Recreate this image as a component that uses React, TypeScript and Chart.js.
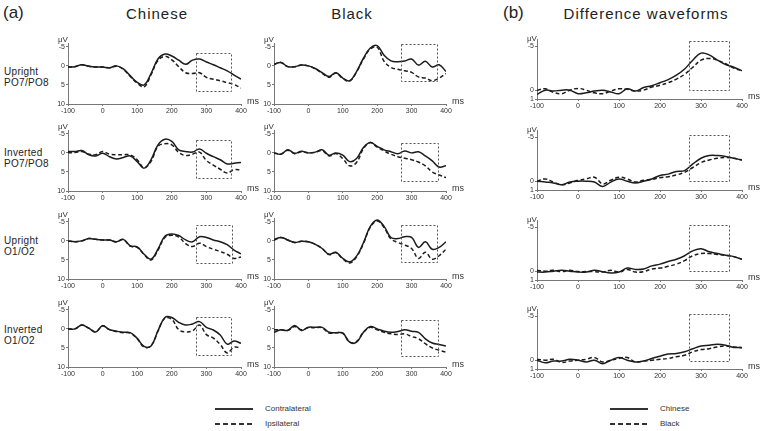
import React, { useEffect, useRef } from "react";
import { Chart, registerables } from "chart.js";

Chart.register(...registerables);

// ---------- data ----------
const times = [-100, -80, -60, -40, -20, 0, 20, 40, 60, 80, 100, 120, 140, 160, 180, 200, 220, 240, 260, 280, 300, 320, 340, 360, 380, 400];
const xTicks = [-100, 0, 100, 200, 300, 400];
const leftYTicks = [-5, 0, 5, 10];
const rightYTicks = [-5, 0, 1];

// Chinese, Upright PO7/PO8
const chUpPO_contra = [0.3, 0.2, -0.3, 0.1, 0.3, 0.3, 0.5, 0.0, 0.8, 2.6, 4.3, 5.0, 2.0, -1.8, -3.1, -2.6, -1.5, -0.4, -1.5, -1.8, -1.0, -0.3, 0.5, 1.3, 2.4, 3.5];
const chUpPO_ipsi = [0.3, 0.2, -0.3, 0.1, 0.3, 0.3, 0.5, 0.1, 0.9, 2.8, 4.5, 5.5, 2.3, -1.4, -2.5, -1.6, 0.2, 1.8, 2.0, 1.8, 3.0, 3.5, 3.9, 4.4, 4.9, 5.8];
// Black, Upright PO7/PO8
const blUpPO_contra = [-0.4, -0.9, 0.2, 0.2, -0.2, 0, 0.7, 1.8, 2.8, 1.8, 3.2, 3.9, 1.5, -2.0, -4.7, -5.3, -2.8, -1.3, -1.1, -1.3, -1.8, -0.2, -1.2, 0.3, -0.3, 1.5];
const blUpPO_ipsi = [-0.4, -0.9, 0.2, 0.2, -0.2, 0, 0.8, 1.9, 3.0, 1.9, 3.3, 4.0, 1.6, -1.8, -4.4, -4.9, -1.2, 0.4, 0.9, 1.3, 1.7, 2.9, 3.2, 3.9, 3.2, 2.0];
// Difference, Upright PO7/PO8
const dfUpPO_chinese = [0.5, 0, 0.1, 0, 0, 0.4, 0.3, 0.1, 0, 0.2, 0.4, -0.15, 0.1, -0.3, -0.5, -0.85, -1.2, -1.7, -2.4, -3.4, -4.2, -4.0, -3.4, -2.9, -2.6, -2.2];
const dfUpPO_black = [0, -0.15, 0.25, 0.4, 0, -0.2, 0, 0.3, 0.4, 0.1, -0.15, -0.1, 0.1, 0, -0.35, -0.55, -0.85, -1.25, -1.8, -2.6, -3.4, -3.6, -3.4, -3.0, -2.5, -2.2];

// Chinese, Inverted PO7/PO8
const chInPO_contra = [-0.35, -0.35, -0.6, 0.5, 0.8, 0.1, 1.0, 1.6, 1.2, 0.8, 2.3, 4.0, 1.8, -2.1, -3.6, -3.0, -0.8, -0.35, -0.2, -1.0, 0.1, 1.0, 1.8, 2.9, 2.7, 2.5];
const chInPO_ipsi = [0, -0.1, -0.35, 0.35, 0.5, -0.35, 0.35, 0.5, 0.5, 0.5, 1.8, 3.9, 2.2, -1.7, -2.4, -2.1, -0.1, 0.7, 0.35, -0.2, 2.0, 3.2, 4.3, 5.3, 4.4, 4.5];
// Black, Inverted PO7/PO8
const blInPO_contra = [0, 0.35, -0.8, 0.1, -0.4, 0, -0.2, -0.8, 0.6, 0, 0.6, 2.3, 1.5, -1.4, -2.7, -1.7, -0.8, -0.3, 0.2, -0.5, 0, -0.3, 0.8, 2.1, 3.7, 3.4];
const blInPO_ipsi = [0, 0.3, -0.7, 0.2, -0.3, 0, -0.1, -0.6, 0.8, 0.2, 1.5, 3.4, 2.5, -1.1, -2.7, -1.5, -0.5, 0.35, 1.0, 1.4, 1.8, 2.4, 3.4, 5.0, 5.8, 6.5];
// Difference, Inverted PO7/PO8
const dfInPO_chinese = [0, 0.1, 0.2, 0.4, 0.1, 0, 0, 0.1, 0.6, 0.1, -0.25, 0, 0.2, 0, -0.25, -0.65, -0.8, -1.1, -1.2, -1.95, -2.6, -2.9, -2.9, -2.8, -2.6, -2.4];
const dfInPO_black = [0, -0.25, 0.1, 0.4, 0.2, -0.1, -0.25, -0.45, 0.3, -0.1, -0.45, -0.25, 0.1, -0.1, -0.2, -0.4, -0.5, -0.7, -1.0, -1.55, -2.1, -2.4, -2.6, -2.7, -2.6, -2.4];

// Chinese, Upright O1/O2
const chUpO_contra = [0, 0.2, 0, -0.6, -0.4, -0.25, -0.2, 0.25, -0.4, 1.3, 1.6, 3.5, 4.8, 2.2, -1.2, -1.8, -1.4, -0.25, 0.25, -1.1, -0.9, -0.25, 0.25, 1.0, 2.4, 3.4];
const chUpO_ipsi = [0, 0.2, 0, -0.6, -0.4, -0.25, -0.2, 0.3, -0.3, 1.4, 1.7, 3.6, 5.0, 2.4, -0.9, -1.5, -1.0, 0.7, 1.5, 0.6, 1.5, 2.2, 2.8, 3.5, 4.6, 4.2];
// Black, Upright O1/O2
const blUpO_contra = [-0.25, -0.9, -0.25, 0.4, 0.1, 0.25, 0.9, 2.0, 3.5, 3.0, 4.6, 5.5, 4.0, 0.5, -3.8, -5.5, -3.8, -0.9, -0.6, -1.1, -0.9, 1.7, 0.25, 2.2, 1.7, 0.25];
const blUpO_ipsi = [-0.25, -0.9, -0.25, 0.4, 0.1, 0.25, 0.9, 2.0, 3.6, 3.1, 4.7, 5.8, 4.2, 0.7, -3.6, -5.2, -3.5, -0.5, 0.4, 1.1, 2.0, 4.6, 3.0, 4.8, 3.9, 2.2];
// Difference, Upright O1/O2
const dfUpO_chinese = [0.1, 0.1, 0, -0.1, 0, 0.1, 0.1, -0.1, 0.05, 0.2, 0.1, -0.35, -0.2, -0.25, -0.6, -0.8, -1.1, -1.35, -1.75, -2.3, -2.55, -2.2, -2.0, -1.8, -1.65, -1.35];
const dfUpO_black = [-0.1, 0, -0.1, 0.05, -0.1, 0.05, 0.05, 0.05, 0.1, -0.1, 0.1, -0.2, 0.1, 0.05, -0.25, -0.35, -0.55, -0.8, -1.2, -1.75, -2.0, -2.0, -1.9, -1.8, -1.65, -1.35];

// Chinese, Inverted O1/O2
const chInO_contra = [0, 0, -1.0, -0.2, 0.8, -0.8, 0.2, 0.6, 0.9, 1.0, 2.5, 4.6, 4.5, 0.5, -3.0, -3.0, -1.7, -1.0, -1.3, -1.9, -0.4, 0.3, 1.6, 4.0, 3.2, 3.8];
const chInO_ipsi = [0, 0, -1.0, -0.2, 0.8, -0.8, 0.2, 0.7, 1.0, 1.1, 2.6, 4.8, 4.4, 0.6, -2.8, -2.5, 0.2, 0.8, 0.5, -1.0, 1.5, 2.4, 4.1, 6.3, 4.8, 5.0];
// Black, Inverted O1/O2
const blInO_contra = [0.9, 0.25, 0.4, -0.9, 0.4, -0.4, -0.4, -0.4, 0.9, 1.0, 1.1, 3.5, 3.5, 0.9, -0.6, 0, 0.6, 0.9, 0.7, 0.25, 0.6, 0.9, 2.6, 3.7, 4.1, 4.5];
const blInO_ipsi = [0.25, 0.25, 0.4, -0.6, 0.25, -0.3, -0.3, -0.3, 1.1, 1.0, 1.1, 3.5, 3.3, 0.9, -0.4, 0.25, 0.9, 1.3, 1.5, 1.3, 2.0, 2.6, 3.9, 5.0, 5.6, 6.1];
// Difference, Inverted O1/O2
const dfInO_chinese = [0, 0.3, 0.1, 0.1, -0.1, 0, 0.2, 0, 0.4, 0, -0.3, 0, 0.2, 0.1, -0.2, -0.45, -0.7, -0.75, -0.95, -1.3, -1.6, -1.7, -1.8, -1.7, -1.45, -1.45];
const dfInO_black = [-0.1, 0, -0.1, 0.25, 0.1, 0, -0.1, -0.3, 0.2, 0, -0.2, -0.3, 0.2, 0.1, 0, -0.1, -0.2, -0.4, -0.55, -0.95, -1.2, -1.3, -1.5, -1.6, -1.5, -1.4];

// analysis windows [t0, t1, v0, v1]
const winChUpPO = [270, 372, -3.4, 6.6];
const winBlUpPO = [270, 374, -5.7, 4.0];
const winDfUpPO = [271, 368, -5.6, 0];
const winChInPO = [270, 372, -3.4, 6.5];
const winBlInPO = [269, 376, -2.5, 7.4];
const winDfInPO = [271, 368, -5.2, 0];
const winChUpO = [270, 373, -4.1, 5.8];
const winBlUpO = [269, 374, -4.1, 5.5];
const winDfUpO = [271, 368, -5.25, 0];
const winChInO = [270, 372, -3.2, 6.8];
const winBlInO = [270, 376, -2.3, 7.2];
const winDfInO = [271, 368, -5.2, 0.1];

const TICK_FONT = "'Liberation Sans Narrow', 'Liberation Sans', Arial, sans-serif";
const TEXT_FONT = "'Liberation Sans', Arial, sans-serif";

const decorPlugin = {
  id: "decor",
  afterDatasetsDraw(chart: any, _args: any, opts: any) {
    const { ctx, chartArea } = chart;
    const x = chart.scales.x;
    const y = chart.scales.y;
    const [t0, t1, v0, v1] = opts.rect;
    ctx.save();
    ctx.setLineDash([2, 2]);
    ctx.strokeStyle = "#555";
    ctx.lineWidth = 1;
    const px0 = Math.round(x.getPixelForValue(t0)) + 0.5;
    const px1 = Math.round(x.getPixelForValue(t1)) + 0.5;
    const py0 = Math.round(y.getPixelForValue(v0)) + 0.5;
    const py1 = Math.round(y.getPixelForValue(v1)) + 0.5;
    ctx.strokeRect(px0, py0, px1 - px0, py1 - py0);
    ctx.setLineDash([]);
    ctx.fillStyle = "#333";
    ctx.font = "8px " + TEXT_FONT;
    ctx.textAlign = "left";
    ctx.textBaseline = "bottom";
    ctx.fillText("μV", chartArea.left - 10, y.getPixelForValue(opts.topTick) - 3);
    ctx.font = "9px " + TEXT_FONT;
    ctx.textBaseline = "middle";
    ctx.fillText("ms", chartArea.right + 6, chartArea.bottom - 2);
    ctx.restore();
  },
};

type PanelProps = {
  axisX: number;
  axisY: number;
  plotW: number;
  plotH: number;
  yMin: number;
  yMax: number;
  yTicks: number[];
  a: number[];
  b: number[];
  rect: number[];
};

const PAD_TOP = 14;
const Y_W = 22;
const X_H = 12;
const PAD_R = 18;

function PanelChart(p: PanelProps) {
  const ref = useRef<HTMLCanvasElement>(null);
  const width = Y_W + p.plotW + PAD_R;
  const height = PAD_TOP + p.plotH + X_H;
  useEffect(() => {
    const toPts = (arr: number[]) => arr.map((v, i) => ({ x: times[i], y: v }));
    const chart = new Chart(ref.current as HTMLCanvasElement, {
      type: "line",
      data: {
        datasets: [
          { data: toPts(p.a), borderColor: "#1c1c1c", borderWidth: 1.5, pointRadius: 0, tension: 0.4, fill: false },
          { data: toPts(p.b), borderColor: "#1c1c1c", borderWidth: 1.5, borderDash: [4, 2.5], pointRadius: 0, tension: 0.4, fill: false },
        ],
      },
      options: {
        animation: false,
        responsive: false,
        events: [],
        layout: { padding: { top: PAD_TOP, right: PAD_R, left: 0, bottom: 0 } },
        plugins: {
          legend: { display: false },
          tooltip: { enabled: false },
          decor: { rect: p.rect, topTick: p.yTicks[0] },
        } as any,
        scales: {
          x: {
            type: "linear",
            min: -100,
            max: 400,
            afterBuildTicks: (s: any) => {
              s.ticks = xTicks.map((v) => ({ value: v }));
            },
            afterFit: (s: any) => {
              s.height = X_H;
            },
            ticks: { font: { size: 7, family: TICK_FONT }, color: "#333", padding: 1, maxRotation: 0, autoSkip: false, callback: (v: any) => String(v) },
            grid: { display: true, drawOnChartArea: false, drawTicks: true, tickLength: 2, color: "#777" },
            border: { display: true, color: "#777", width: 1 },
          },
          y: {
            type: "linear",
            reverse: true,
            min: p.yMin,
            max: p.yMax,
            afterBuildTicks: (s: any) => {
              s.ticks = p.yTicks.map((v) => ({ value: v }));
            },
            afterFit: (s: any) => {
              s.width = Y_W;
            },
            ticks: { font: { size: 7, family: TICK_FONT }, color: "#333", padding: 1, autoSkip: false, callback: (v: any) => String(v) },
            grid: { display: true, drawOnChartArea: false, drawTicks: true, tickLength: 2, color: "#777" },
            border: { display: true, color: "#777", width: 1 },
          },
        },
      } as any,
      plugins: [decorPlugin as any],
    });
    return () => chart.destroy();
  }, []);
  return (
    <canvas
      ref={ref}
      width={width}
      height={height}
      style={{ position: "absolute", left: p.axisX - Y_W, top: p.axisY - p.plotH - PAD_TOP, width, height }}
    />
  );
}

const LEFT_H = 61;
const RIGHT_H = 60;

const abs = (left: number, top: number, extra: any = {}) => ({ position: "absolute" as const, left, top, whiteSpace: "nowrap" as const, ...extra });

function Legend({ x, y, label, dashed }: { x: number; y: number; label: string; dashed: boolean }) {
  return (
    <>
      <div
        style={abs(x, y - 1, {
          width: 38,
          height: 1.5,
          background: dashed ? "repeating-linear-gradient(to right, #333 0 5px, transparent 5px 8px)" : "#333",
        })}
      />
      <div style={abs(x + 50, y - 6, { fontSize: 8, lineHeight: "11px", color: "#333" })}>{label}</div>
    </>
  );
}

export default function App() {
  const rowsL = [104, 191, 279, 367];
  const rowsR = [99, 190, 280, 369];
  const chX = 68, chW = 173;
  const blX = 274, blW = 172;
  const dfX = 537, dfW = 205;
  const L = { plotH: LEFT_H, yMin: -6, yMax: 10, yTicks: leftYTicks };
  const R = { plotH: RIGHT_H, yMin: -5.8, yMax: 1, yTicks: rightYTicks };
  const rowLabel = { fontSize: 10, lineHeight: "11px", color: "#222", letterSpacing: 0.3 };
  const title = { fontSize: 15, letterSpacing: 1, color: "#222", transform: "translateX(-50%)" };
  return (
    <div style={{ position: "absolute", left: 0, top: 0, width: 762, height: 431, background: "#fff", fontFamily: TEXT_FONT, overflow: "hidden" }}>
      <div style={abs(3, 3, { fontSize: 17, color: "#222" })}>(a)</div>
      <div style={abs(157, 5, title)}>Chinese</div>
      <div style={abs(352, 5, title)}>Black</div>
      <div style={abs(503, 3, { fontSize: 17, color: "#222" })}>(b)</div>
      <div style={abs(646, 5, title)}>Difference waveforms</div>

      <div style={abs(4, 66, rowLabel)}>Upright<br />PO7/PO8</div>
      <div style={abs(4, 147, rowLabel)}>Inverted<br />PO7/PO8</div>
      <div style={abs(4, 235, rowLabel)}>Upright<br />O1/O2</div>
      <div style={abs(4, 324, rowLabel)}>Inverted<br />O1/O2</div>

      <PanelChart axisX={chX} axisY={rowsL[0]} plotW={chW} {...L} a={chUpPO_contra} b={chUpPO_ipsi} rect={winChUpPO} />
      <PanelChart axisX={blX} axisY={rowsL[0]} plotW={blW} {...L} a={blUpPO_contra} b={blUpPO_ipsi} rect={winBlUpPO} />
      <PanelChart axisX={dfX} axisY={rowsR[0]} plotW={dfW} {...R} a={dfUpPO_chinese} b={dfUpPO_black} rect={winDfUpPO} />

      <PanelChart axisX={chX} axisY={rowsL[1]} plotW={chW} {...L} a={chInPO_contra} b={chInPO_ipsi} rect={winChInPO} />
      <PanelChart axisX={blX} axisY={rowsL[1]} plotW={blW} {...L} a={blInPO_contra} b={blInPO_ipsi} rect={winBlInPO} />
      <PanelChart axisX={dfX} axisY={rowsR[1]} plotW={dfW} {...R} a={dfInPO_chinese} b={dfInPO_black} rect={winDfInPO} />

      <PanelChart axisX={chX} axisY={rowsL[2]} plotW={chW} {...L} a={chUpO_contra} b={chUpO_ipsi} rect={winChUpO} />
      <PanelChart axisX={blX} axisY={rowsL[2]} plotW={blW} {...L} a={blUpO_contra} b={blUpO_ipsi} rect={winBlUpO} />
      <PanelChart axisX={dfX} axisY={rowsR[2]} plotW={dfW} {...R} a={dfUpO_chinese} b={dfUpO_black} rect={winDfUpO} />

      <PanelChart axisX={chX} axisY={rowsL[3]} plotW={chW} {...L} a={chInO_contra} b={chInO_ipsi} rect={winChInO} />
      <PanelChart axisX={blX} axisY={rowsL[3]} plotW={blW} {...L} a={blInO_contra} b={blInO_ipsi} rect={winBlInO} />
      <PanelChart axisX={dfX} axisY={rowsR[3]} plotW={dfW} {...R} a={dfInO_chinese} b={dfInO_black} rect={winDfInO} />

      <Legend x={215} y={409} label="Contralateral" dashed={false} />
      <Legend x={215} y={424} label="Ipsilateral" dashed={true} />
      <Legend x={610} y={409} label="Chinese" dashed={false} />
      <Legend x={610} y={424} label="Black" dashed={true} />
    </div>
  );
}
